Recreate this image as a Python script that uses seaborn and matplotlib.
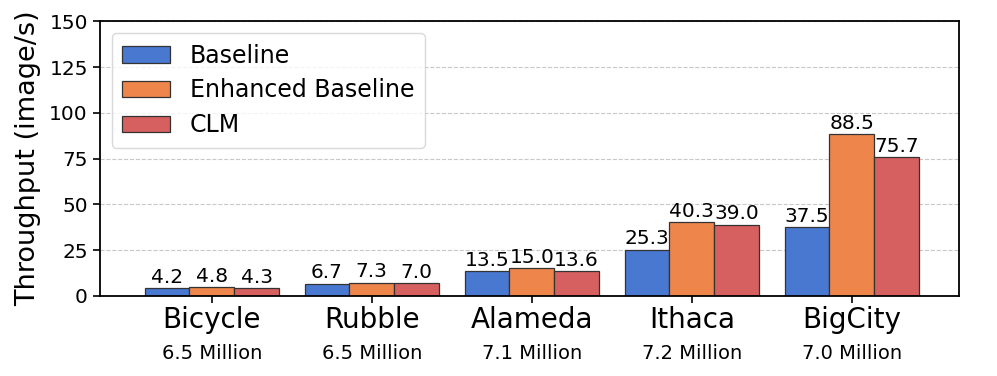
import numpy as np
import pandas as pd
import seaborn as sns
import matplotlib.pyplot as plt

scenes = ["Bicycle", "Rubble", "Alameda", "Ithaca", "BigCity"]
sizes = ["6.5 Million", "6.5 Million", "7.1 Million", "7.2 Million", "7.0 Million"]
methods = ["Baseline", "Enhanced Baseline", "CLM"]
baseline = [4.2, 6.7, 13.5, 25.3, 37.5]
enhanced = [4.8, 7.3, 15.0, 40.3, 88.5]
clm = [4.3, 7.0, 13.6, 39.0, 75.7]

df = pd.DataFrame({
    "scene": scenes * 3,
    "method": [m for m in methods for _ in scenes],
    "throughput": baseline + enhanced + clm,
})

sns.set_theme(style="ticks")
plt.rcParams["font.family"] = ["DejaVu Sans"]
plt.rcParams["text.color"] = "black"
plt.rcParams["axes.labelcolor"] = "black"
plt.rcParams["xtick.color"] = "black"
plt.rcParams["ytick.color"] = "black"
muted = sns.color_palette("muted")
palette = [muted[0], muted[1], muted[3]]

fig, ax = plt.subplots(figsize=(9.97, 3.76), dpi=100)
fig.subplots_adjust(left=0.1, right=0.962, top=0.943, bottom=0.213)

sns.barplot(data=df, x="scene", y="throughput", hue="method", order=scenes,
            hue_order=methods, palette=palette, width=0.84, gap=0,
            edgecolor="#333333", linewidth=0.9, saturation=1, ax=ax)

for c in ax.containers:
    ax.bar_label(c, fmt="%.1f", fontsize=14.5, padding=1, color="black")

ax.set_ylim(0, 150)
ax.set_yticks(np.arange(0, 151, 25))
ax.set_xlim(-0.7, 4.67)
ax.yaxis.grid(True, linestyle="--", color="#c8c8c8", linewidth=0.8)
ax.set_axisbelow(True)
for s in ax.spines.values():
    s.set_visible(True)
    s.set_color("black")
    s.set_linewidth(1.3)

ax.set_xlabel("")
ax.set_ylabel("Throughput (image/s)", fontsize=19.5, labelpad=6)
ax.tick_params(axis="y", labelsize=14.5, length=5, width=1.2)
ax.tick_params(axis="x", labelsize=20, length=5, width=1.2, pad=2)

# dataset sizes under the scene names
for i, s in enumerate(sizes):
    ax.text(i, -0.175, s, transform=ax.get_xaxis_transform(), ha="center",
            va="top", fontsize=14)

ax.legend(loc="upper left", fontsize=17, handlelength=2.0, handleheight=0.68,
          handletextpad=0.85, labelspacing=0.45, borderpad=0.45,
          borderaxespad=0, frameon=True, fancybox=True, edgecolor="#d0d0d0",
          bbox_to_anchor=(0.014, 0.957))

plt.savefig("out.png", dpi=100)
